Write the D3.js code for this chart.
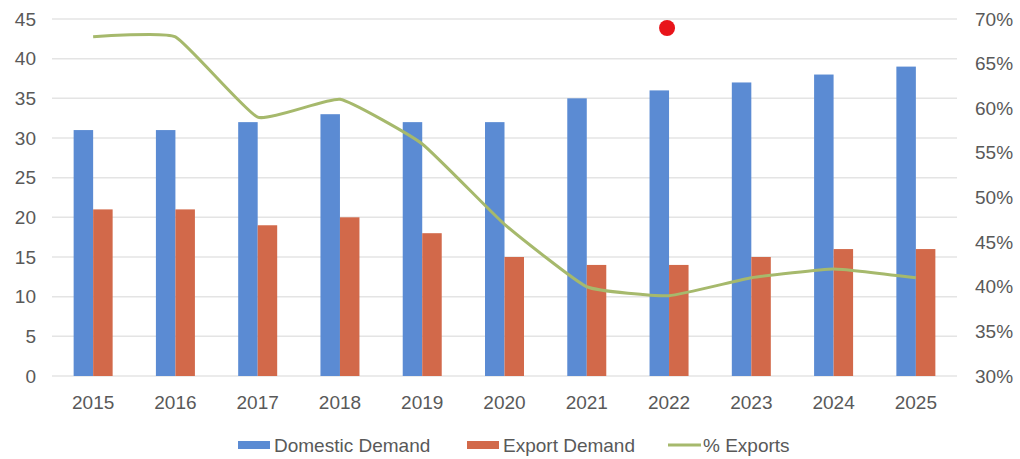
<!DOCTYPE html>
<html>
<head>
<meta charset="utf-8">
<script src="https://cdn.jsdelivr.net/npm/d3@7"></script>
<style>
  body { margin: 0; background: #fff; }
  text { font-family: "Liberation Sans", Arial, sans-serif; fill: #595959; }
</style>
</head>
<body>
<div id="chart"></div>
<script>
// data
const years = ['2015', '2016', '2017', '2018', '2019', '2020', '2021', '2022', '2023', '2024', '2025'];
const domestic = [31, 31, 32, 33, 32, 32, 35, 36, 37, 38, 39];
const exportDemand = [21, 21, 19, 20, 18, 15, 14, 14, 15, 16, 16];
const pctExports = [68, 68, 59, 61, 56, 47, 40, 39, 41, 42, 41];
const leftTicks = [0, 5, 10, 15, 20, 25, 30, 35, 40, 45];
const rightTicks = [30, 35, 40, 45, 50, 55, 60, 65, 70];

const width = 1020, height = 459;
const plotLeft = 52, plotRight = 957, plotTop = 19, plotBottom = 376;

const svg = d3.select('#chart').append('svg')
    .attr('width', width)
    .attr('height', height);

const x = d3.scaleBand().domain(years).range([plotLeft, plotRight]).padding(0);
const y = d3.scaleLinear().domain([0, 45]).range([plotBottom, plotTop]);
const y2 = d3.scaleLinear().domain([30, 70]).range([plotBottom, plotTop]);

// gridlines
svg.append('g')
    .selectAll('line')
    .data(leftTicks)
    .enter().append('line')
    .attr('x1', plotLeft).attr('x2', plotRight)
    .attr('y1', d => y(d)).attr('y2', d => y(d))
    .attr('stroke', '#e4e4e4')
    .attr('stroke-width', 1.5);

// left axis
const yAxis = svg.append('g')
    .attr('transform', `translate(${plotLeft - 16},0)`)
    .call(d3.axisLeft(y).tickValues(leftTicks).tickSize(0).tickPadding(0));
yAxis.select('.domain').remove();
yAxis.selectAll('text').style('font-size', '19px').attr('fill', '#595959');

// right axis
const y2Axis = svg.append('g')
    .attr('transform', `translate(${plotRight + 18},0)`)
    .call(d3.axisRight(y2).tickValues(rightTicks).tickSize(0).tickPadding(0).tickFormat(d => d + '%'));
y2Axis.select('.domain').remove();
y2Axis.selectAll('text').style('font-size', '19px').attr('fill', '#595959');

// x axis labels
const xAxis = svg.append('g')
    .attr('transform', `translate(0,${plotBottom + 22})`)
    .call(d3.axisBottom(x).tickSize(0).tickPadding(0));
xAxis.select('.domain').remove();
xAxis.selectAll('text').style('font-size', '19px').attr('fill', '#595959').attr('dy', '0.6em');

// bars
const barW = 19.5;
const bars = svg.append('g');
bars.selectAll('rect.dom')
    .data(years)
    .enter().append('rect')
    .attr('class', 'dom')
    .attr('x', d => x(d) + x.bandwidth() / 2 - barW)
    .attr('width', barW)
    .attr('y', (d, i) => y(domestic[i]))
    .attr('height', (d, i) => y(0) - y(domestic[i]))
    .attr('fill', '#5b8bd3');

bars.selectAll('rect.exp')
    .data(years)
    .enter().append('rect')
    .attr('class', 'exp')
    .attr('x', d => x(d) + x.bandwidth() / 2)
    .attr('width', barW)
    .attr('y', (d, i) => y(exportDemand[i]))
    .attr('height', (d, i) => y(0) - y(exportDemand[i]))
    .attr('fill', '#d2694a');

// % exports line
const line = d3.line()
    .x((d, i) => x(years[i]) + x.bandwidth() / 2)
    .y(d => y2(d))
    .curve(d3.curveCardinal.tension(0.6));

svg.append('path')
    .datum(pctExports)
    .attr('d', line)
    .attr('fill', 'none')
    .attr('stroke', '#a6b96c')
    .attr('stroke-width', 3);

// red marker over 2022
svg.append('circle')
    .attr('cx', x('2022') + x.bandwidth() / 2 - 2)
    .attr('cy', 28)
    .attr('r', 8)
    .attr('fill', '#e8141a');

// legend
const legend = svg.append('g').attr('transform', 'translate(0,445)');
const items = [
    { label: 'Domestic Demand', color: '#5b8bd3', x: 238, type: 'rect' },
    { label: 'Export Demand', color: '#d2694a', x: 467, type: 'rect' },
    { label: '% Exports', color: '#a6b96c', x: 668, type: 'line' }
];
items.forEach(it => {
    if (it.type === 'rect') {
        legend.append('rect')
            .attr('x', it.x).attr('y', -4)
            .attr('width', 32).attr('height', 8)
            .attr('fill', it.color);
        legend.append('text')
            .attr('x', it.x + 36).attr('y', 0).attr('dy', '0.35em')
            .style('font-size', '19px').text(it.label);
    } else {
        legend.append('line')
            .attr('x1', it.x).attr('x2', it.x + 33)
            .attr('y1', 0).attr('y2', 0)
            .attr('stroke', it.color).attr('stroke-width', 3);
        legend.append('text')
            .attr('x', it.x + 35).attr('y', 0).attr('dy', '0.35em')
            .style('font-size', '19px').text(it.label);
    }
});
</script>
</body>
</html>
